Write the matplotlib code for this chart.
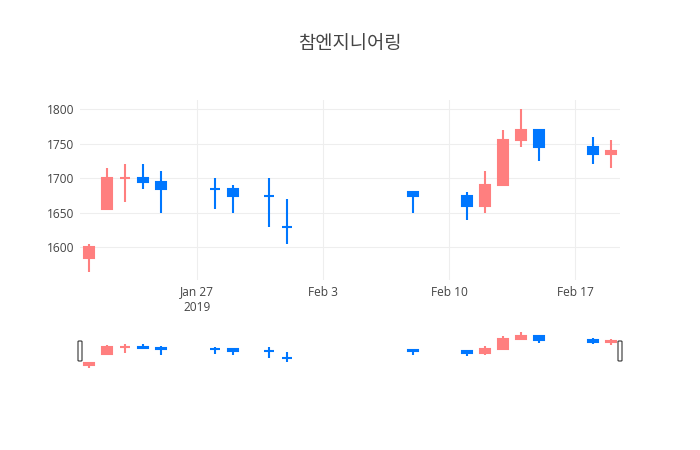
import numpy as np
import pandas as pd
import matplotlib
matplotlib.use('Agg')
import matplotlib.pyplot as plt
import matplotlib.dates as mdates
from matplotlib.patches import FancyBboxPatch

# daily prices
dates = ['2019-01-21', '2019-01-22', '2019-01-23', '2019-01-24', '2019-01-25',
         '2019-01-28', '2019-01-29', '2019-01-31', '2019-02-01', '2019-02-08',
         '2019-02-11', '2019-02-12', '2019-02-13', '2019-02-14', '2019-02-15',
         '2019-02-18', '2019-02-19']
opens = [1585, 1655, 1700, 1700, 1695, 1685, 1685, 1675, 1630, 1680,
         1675, 1660, 1690, 1755, 1770, 1745, 1735]
highs = [1605, 1715, 1720, 1720, 1710, 1700, 1690, 1700, 1670, 1680,
         1680, 1710, 1770, 1800, 1770, 1760, 1755]
lows = [1565, 1655, 1665, 1685, 1650, 1655, 1650, 1630, 1605, 1650,
        1640, 1650, 1690, 1745, 1725, 1720, 1715]
closes = [1600, 1700, 1700, 1695, 1685, 1685, 1675, 1675, 1630, 1675,
          1660, 1690, 1755, 1770, 1745, 1735, 1740]

title = '참엔지니어링'
tick_dates = ['2019-01-27', '2019-02-03', '2019-02-10', '2019-02-17']
tick_labels = ['Jan 27\n2019', 'Feb 3', 'Feb 10', 'Feb 17']
y_ticks = [1600, 1650, 1700, 1750, 1800]

UP = '#ff7f7f'
DOWN = '#0077ff'
W, H = 700, 450

x = mdates.date2num(pd.to_datetime(dates))

# plotly style direction: ties look at previous close, then previous direction
colors = []
prev_up = True
for i in range(len(x)):
    if closes[i] > opens[i]:
        up = True
    elif closes[i] < opens[i]:
        up = False
    elif i > 0 and closes[i] != closes[i - 1]:
        up = closes[i] > closes[i - 1]
    else:
        up = prev_up
    prev_up = up
    colors.append(UP if up else DOWN)

fig = plt.figure(figsize=(7, 4.5), dpi=100)
ax = fig.add_axes([80 / W, 1 - 280 / H, 540 / W, 180 / H])
sl = fig.add_axes([80 / W, 80 / H, 540 / W, 40.5 / H])

xlim = (x[0] - 0.5, x[-1] + 0.5)
ylim = (1553, 1813)


def draw_candles(a, lw):
    for xi, o, h, l, c, col in zip(x, opens, highs, lows, closes, colors):
        a.vlines(xi, l, h, color=col, linewidth=lw, zorder=2)
        a.bar(xi, abs(c - o), bottom=min(o, c), width=0.6, color=col,
              edgecolor=col, linewidth=lw, zorder=3)
    a.set_xlim(*xlim)
    a.set_ylim(*ylim)
    for s in a.spines.values():
        s.set_visible(False)


draw_candles(ax, 1.5)
draw_candles(sl, 1.5)

ax.set_yticks(y_ticks)
ax.set_xticks(mdates.date2num(pd.to_datetime(tick_dates)))
ax.set_xticklabels(tick_labels, linespacing=1.2)
ax.grid(True, color='#eeeeee', linewidth=0.8, zorder=0)
ax.set_axisbelow(True)
ax.tick_params(length=0, labelsize=8.6, labelcolor='#444444', pad=4)
for t in ax.get_xticklabels() + ax.get_yticklabels():
    t.set_fontfamily('Open Sans')

sl.set_xticks([])
sl.set_yticks([])

# range slider handles
for hx in (80, 620):
    fig.patches.append(FancyBboxPatch(((hx - 2) / W, 1 - 361 / H), 4 / W, 20 / H,
                                      boxstyle='round,pad=0,rounding_size=0.0015',
                                      transform=fig.transFigure, facecolor='white',
                                      edgecolor='#333333', linewidth=0.8, zorder=5))

fig.text(0.5, 1 - 44 / H, title, ha='center', va='center', fontsize=13.5,
         color='#444444', family=['Noto Sans CJK KR', 'DejaVu Sans'])

fig.savefig('out.png', dpi=100, facecolor='white')
